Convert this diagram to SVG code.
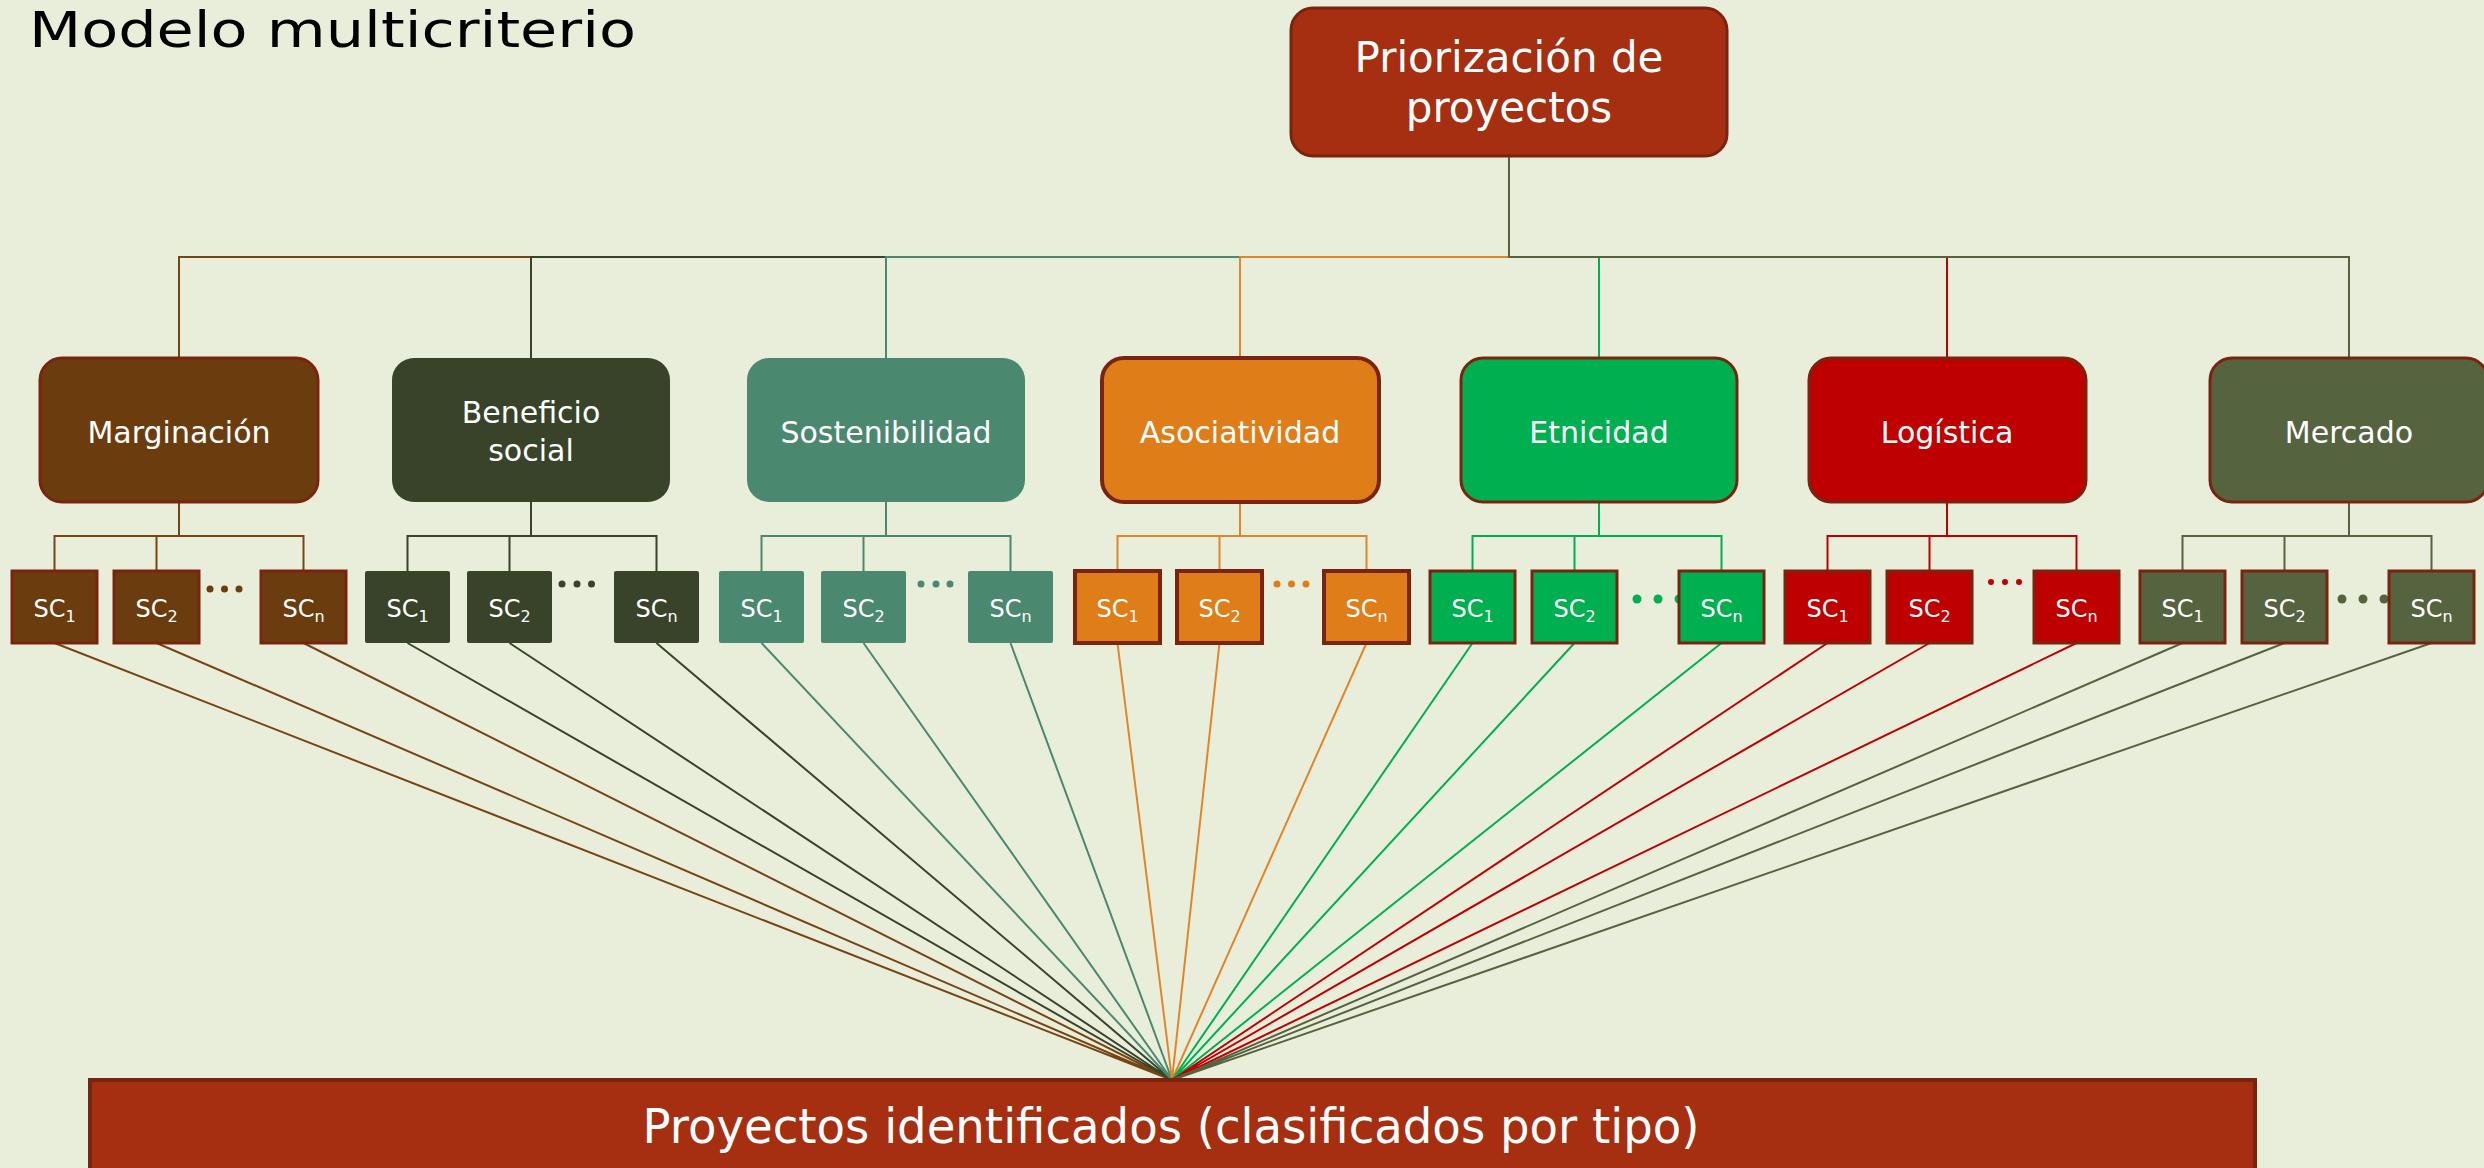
<svg xmlns="http://www.w3.org/2000/svg" width="2484" height="1168" viewBox="0 0 2484 1168">
<style>
.t{font-family:"DejaVu Sans","Liberation Sans",sans-serif;fill:#fff;text-anchor:middle}
.sc{font-family:"DejaVu Sans","Liberation Sans",sans-serif;fill:#fff;font-size:24px;text-anchor:middle}
.sub{font-size:16px}
.ln{fill:none;stroke-width:2}
.bx{stroke:#7A2410;stroke-width:3}
.marg{fill:#6B3D0E}.ben{fill:#38432A}.sost{fill:#4B8870}.asoc{fill:#DF7D18}.etn{fill:#00AF50}.log{fill:#BE0000}.merc{fill:#56633F}
.lmarg{stroke:#774512}.lben{stroke:#38432A}.lsost{stroke:#4B8870}.lasoc{stroke:#E0862A}.letn{stroke:#00B050}.llog{stroke:#C00000}.lmerc{stroke:#56633F}
</style>
<rect x="0" y="0" width="2484" height="1168" fill="#E9EEDB"/>
<text x="29" y="47" font-family="DejaVu Sans, Liberation Sans, sans-serif" font-size="50" fill="#000" textLength="607" lengthAdjust="spacingAndGlyphs">Modelo multicriterio</text>

<g id="connectors">
  <path class="ln lmarg" d="M1509,200 V257 H179 V358"/>
  <path class="ln lben" d="M1509,257 H531 V358"/>
  <path class="ln lsost" d="M1509,257 H886 V358"/>
  <path class="ln lasoc" d="M1509,257 H1240 V358"/>
  <path class="ln letn" d="M1509,257 H1599 V358"/>
  <path class="ln llog" d="M1509,257 H1947 V358"/>
  <path class="ln lmerc" d="M1509,156 V257 H2349 V358"/>
  <path class="ln lmarg" d="M179,502 V536 M54.5,571 V536 H303.5 V571 M156.5,536 V571"/>
  <path class="ln lben" d="M531,502 V536 M407.5,571 V536 H656.5 V571 M509.5,536 V571"/>
  <path class="ln lsost" d="M886,502 V536 M761.5,571 V536 H1010.5 V571 M863.5,536 V571"/>
  <path class="ln lasoc" d="M1240,502 V536 M1117.5,571 V536 H1366.5 V571 M1219.5,536 V571"/>
  <path class="ln letn" d="M1599,502 V536 M1472.5,571 V536 H1721.5 V571 M1574.5,536 V571"/>
  <path class="ln llog" d="M1947,502 V536 M1827.5,571 V536 H2076.5 V571 M1929.5,536 V571"/>
  <path class="ln lmerc" d="M2349,502 V536 M2182.5,571 V536 H2431.5 V571 M2284.5,536 V571"/>
  <path class="ln lmarg" d="M54.5,643 L1172,1080 M156.5,643 L1172,1080 M303.5,643 L1172,1080"/>
  <path class="ln lben" d="M407.5,643 L1172,1080 M509.5,643 L1172,1080 M656.5,643 L1172,1080"/>
  <path class="ln lsost" d="M761.5,643 L1172,1080 M863.5,643 L1172,1080 M1010.5,643 L1172,1080"/>
  <path class="ln lasoc" d="M1117.5,643 L1172,1080 M1219.5,643 L1172,1080 M1366.5,643 L1172,1080"/>
  <path class="ln letn" d="M1472.5,643 L1172,1080 M1574.5,643 L1172,1080 M1721.5,643 L1172,1080"/>
  <path class="ln llog" d="M1827.5,643 L1172,1080 M1929.5,643 L1172,1080 M2076.5,643 L1172,1080"/>
  <path class="ln lmerc" d="M2182.5,643 L1172,1080 M2284.5,643 L1172,1080 M2431.5,643 L1172,1080"/>
</g>

<g id="priorizacion">
  <rect x="1291" y="8" width="436" height="148" rx="22" fill="#A52F10" stroke="#7A2410" stroke-width="3"/>
  <text class="t" x="1509" y="72" font-size="42">Priorización de</text>
  <text class="t" x="1509" y="122" font-size="42">proyectos</text>
</g>

<g id="marginacion">
  <rect class="marg bx" x="40" y="358" width="278" height="144" rx="22"/>
  <text class="t" x="179" y="443" font-size="30">Marginación</text>
</g>
<g id="beneficio">
  <rect class="ben" x="392" y="358" width="278" height="144" rx="22"/>
  <text class="t" x="531" y="423" font-size="30">Beneficio</text>
  <text class="t" x="531" y="461" font-size="30">social</text>
</g>
<g id="sostenibilidad">
  <rect class="sost" x="747" y="358" width="278" height="144" rx="22"/>
  <text class="t" x="886" y="443" font-size="30">Sostenibilidad</text>
</g>
<g id="asociatividad">
  <rect class="asoc" x="1102" y="358" width="277" height="144" rx="22" stroke="#7A2410" stroke-width="4"/>
  <text class="t" x="1240" y="443" font-size="30">Asociatividad</text>
</g>
<g id="etnicidad">
  <rect class="etn bx" x="1461" y="358" width="276" height="144" rx="22"/>
  <text class="t" x="1599" y="443" font-size="30">Etnicidad</text>
</g>
<g id="logistica">
  <rect class="log bx" x="1809" y="358" width="277" height="144" rx="22"/>
  <text class="t" x="1947" y="443" font-size="30">Logística</text>
</g>
<g id="mercado">
  <rect class="merc bx" x="2210" y="358" width="278" height="144" rx="22"/>
  <text class="t" x="2349" y="443" font-size="30">Mercado</text>
</g>

<g id="marg-sc">
  <rect class="marg bx" x="12" y="571" width="85" height="72"/>
  <text class="sc" x="54.5" y="617">SC<tspan class="sub" dy="5">1</tspan></text>
  <rect class="marg bx" x="114" y="571" width="85" height="72"/>
  <text class="sc" x="156.5" y="617">SC<tspan class="sub" dy="5">2</tspan></text>
  <g class="marg"><circle cx="210" cy="589" r="3.5"/><circle cx="224.5" cy="589" r="3.5"/><circle cx="239" cy="589" r="3.5"/></g>
  <rect class="marg bx" x="261" y="571" width="85" height="72"/>
  <text class="sc" x="303.5" y="617">SC<tspan class="sub" dy="5">n</tspan></text>
</g>
<g id="ben-sc">
  <rect class="ben" x="365" y="571" width="85" height="72" rx="2"/>
  <text class="sc" x="407.5" y="617">SC<tspan class="sub" dy="5">1</tspan></text>
  <rect class="ben" x="467" y="571" width="85" height="72" rx="2"/>
  <text class="sc" x="509.5" y="617">SC<tspan class="sub" dy="5">2</tspan></text>
  <g class="ben"><circle cx="562" cy="584" r="3.5"/><circle cx="577" cy="584" r="3.5"/><circle cx="591.5" cy="584" r="3.5"/></g>
  <rect class="ben" x="614" y="571" width="85" height="72" rx="2"/>
  <text class="sc" x="656.5" y="617">SC<tspan class="sub" dy="5">n</tspan></text>
</g>
<g id="sost-sc">
  <rect class="sost" x="719" y="571" width="85" height="72" rx="2"/>
  <text class="sc" x="761.5" y="617">SC<tspan class="sub" dy="5">1</tspan></text>
  <rect class="sost" x="821" y="571" width="85" height="72" rx="2"/>
  <text class="sc" x="863.5" y="617">SC<tspan class="sub" dy="5">2</tspan></text>
  <g class="sost"><circle cx="921" cy="584" r="3.5"/><circle cx="936" cy="584" r="3.5"/><circle cx="950" cy="584" r="3.5"/></g>
  <rect class="sost" x="968" y="571" width="85" height="72" rx="2"/>
  <text class="sc" x="1010.5" y="617">SC<tspan class="sub" dy="5">n</tspan></text>
</g>
<g id="asoc-sc">
  <rect class="asoc" x="1075" y="571" width="85" height="72" stroke="#7A2410" stroke-width="4"/>
  <text class="sc" x="1117.5" y="617">SC<tspan class="sub" dy="5">1</tspan></text>
  <rect class="asoc" x="1177" y="571" width="85" height="72" stroke="#7A2410" stroke-width="4"/>
  <text class="sc" x="1219.5" y="617">SC<tspan class="sub" dy="5">2</tspan></text>
  <g class="asoc"><circle cx="1277" cy="584" r="3.5"/><circle cx="1291.5" cy="584" r="3.5"/><circle cx="1306" cy="584" r="3.5"/></g>
  <rect class="asoc" x="1324" y="571" width="85" height="72" stroke="#7A2410" stroke-width="4"/>
  <text class="sc" x="1366.5" y="617">SC<tspan class="sub" dy="5">n</tspan></text>
</g>
<g id="etn-sc">
  <rect class="etn bx" x="1430" y="571" width="85" height="72"/>
  <text class="sc" x="1472.5" y="617">SC<tspan class="sub" dy="5">1</tspan></text>
  <rect class="etn bx" x="1532" y="571" width="85" height="72"/>
  <text class="sc" x="1574.5" y="617">SC<tspan class="sub" dy="5">2</tspan></text>
  <g class="etn"><circle cx="1637" cy="599" r="4.5"/><circle cx="1658" cy="599" r="4.5"/><circle cx="1679" cy="599" r="4.5"/></g>
  <rect class="etn bx" x="1679" y="571" width="85" height="72"/>
  <text class="sc" x="1721.5" y="617">SC<tspan class="sub" dy="5">n</tspan></text>
</g>
<g id="log-sc">
  <rect class="log bx" x="1785" y="571" width="85" height="72"/>
  <text class="sc" x="1827.5" y="617">SC<tspan class="sub" dy="5">1</tspan></text>
  <rect class="log bx" x="1887" y="571" width="85" height="72"/>
  <text class="sc" x="1929.5" y="617">SC<tspan class="sub" dy="5">2</tspan></text>
  <g class="log"><circle cx="1991" cy="582" r="3"/><circle cx="2005" cy="582" r="3"/><circle cx="2019" cy="582" r="3"/></g>
  <rect class="log bx" x="2034" y="571" width="85" height="72"/>
  <text class="sc" x="2076.5" y="617">SC<tspan class="sub" dy="5">n</tspan></text>
</g>
<g id="merc-sc">
  <rect class="merc bx" x="2140" y="571" width="85" height="72"/>
  <text class="sc" x="2182.5" y="617">SC<tspan class="sub" dy="5">1</tspan></text>
  <rect class="merc bx" x="2242" y="571" width="85" height="72"/>
  <text class="sc" x="2284.5" y="617">SC<tspan class="sub" dy="5">2</tspan></text>
  <g class="merc"><circle cx="2342" cy="599" r="4.5"/><circle cx="2363" cy="599" r="4.5"/><circle cx="2384" cy="599" r="4.5"/></g>
  <rect class="merc bx" x="2389" y="571" width="85" height="72"/>
  <text class="sc" x="2431.5" y="617">SC<tspan class="sub" dy="5">n</tspan></text>
</g>

<g id="proyectos">
  <rect x="90" y="1080" width="2165" height="100" fill="#A52F10" stroke="#7A2410" stroke-width="4"/>
  <text class="t" x="1171" y="1143" font-size="48" textLength="1057" lengthAdjust="spacingAndGlyphs">Proyectos identificados (clasificados por tipo)</text>
</g>
</svg>
